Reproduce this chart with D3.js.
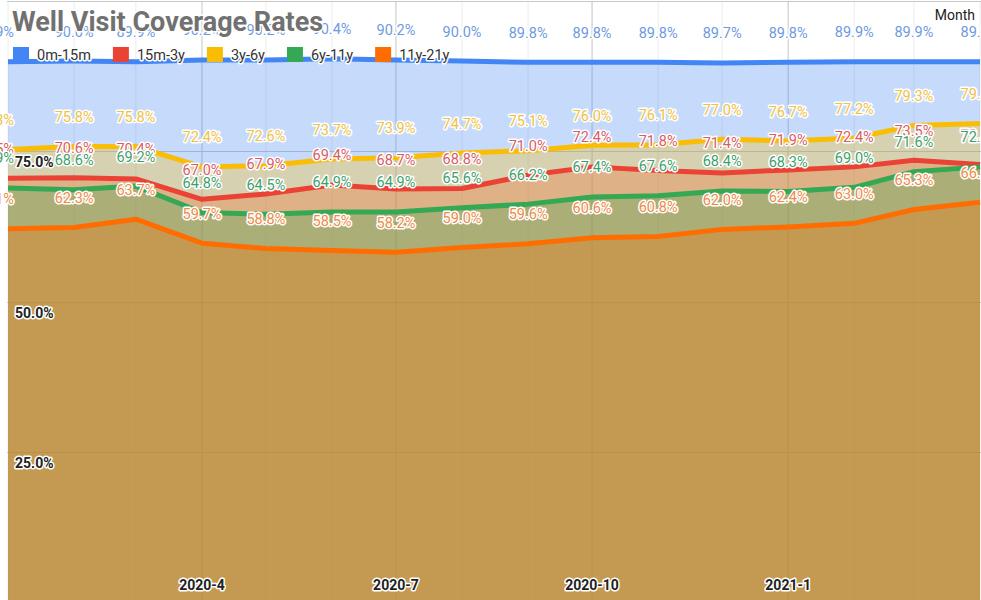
<!DOCTYPE html>
<html>
<head>
<meta charset="utf-8">
<script src="https://cdn.jsdelivr.net/npm/d3@7"></script>
<style>
  html, body { margin: 0; padding: 0; background: #fff; }
  svg { display: block; font-family: Roboto, Arial, sans-serif; }
</style>
</head>
<body>
<svg id="chart"></svg>
<script>
// Données
const months = ["2020-1", "2020-2", "2020-3", "2020-4", "2020-5", "2020-6", "2020-7", "2020-8",
  "2020-9", "2020-10", "2020-11", "2020-12", "2021-1", "2021-2", "2021-3", "2021-4"];
const seriesNames = ["0m-15m", "15m-3y", "3y-6y", "6y-11y", "11y-21y"];
const rate0m15m = [89.9, 90.0, 89.9, 90.2, 90.2, 90.4, 90.2, 90.0, 89.8, 89.8, 89.8, 89.7, 89.8, 89.9, 89.9, 89.9];
const rate15m3y = [70.5, 70.6, 70.4, 67.0, 67.9, 69.4, 68.7, 68.8, 71.0, 72.4, 71.8, 71.4, 71.9, 72.4, 73.5, 72.8];
const rate3y6y = [75.3, 75.8, 75.8, 72.4, 72.6, 73.7, 73.9, 74.7, 75.1, 76.0, 76.1, 77.0, 76.7, 77.2, 79.3, 79.6];
const rate6y11y = [68.9, 68.6, 69.2, 64.8, 64.5, 64.9, 64.9, 65.6, 66.2, 67.4, 67.6, 68.4, 68.3, 69.0, 71.6, 72.4];
const rate11y21y = [62.1, 62.3, 63.7, 59.7, 58.8, 58.5, 58.2, 59.0, 59.6, 60.6, 60.8, 62.0, 62.4, 63.0, 65.3, 66.5];
const yTicks = [25, 50, 75, 100];
const xTickLabels = ["2020-4", "2020-7", "2020-10", "2021-1"];

// Styles
const lineColors = ["#4285f4", "#ea4335", "#fbbc04", "#34a853", "#ff6d01"];
const labelColors = ["#6f9ae0", "#d85d68", "#efc244", "#3f9f6c", "#ef8a45"];

const width = 981,
  height = 600;

const svg = d3.select("#chart").attr("width", width).attr("height", height);

const parseMonth = d3.timeParse("%Y-%m");
const dates = months.map(parseMonth);
const series = [rate0m15m, rate15m3y, rate3y6y, rate6y11y, rate11y21y];

// Echelles
const x = d3.scaleTime()
  .domain([dates[0], dates[dates.length - 1]])
  .range([8, 980]);
const y = d3.scaleLinear().domain([0, 100]).range([602, 1]);

// Zone de tracé (bande blanche à gauche)
svg.append("defs").append("clipPath").attr("id", "plot-clip")
  .append("rect").attr("x", 7).attr("y", 0).attr("width", width - 7).attr("height", height);

const plot = svg.append("g").attr("clip-path", "url(#plot-clip)");

// Grille verticale : mineure chaque mois, majeure chaque trimestre
const monthTicks = d3.timeMonth.range(dates[0], d3.timeMonth.offset(dates[dates.length - 1], 1));
plot.append("g")
  .selectAll("line")
  .data(monthTicks)
  .join("line")
  .attr("x1", d => x(d)).attr("x2", d => x(d))
  .attr("y1", y(100)).attr("y2", height)
  .attr("stroke", d => xTickLabels.includes(d3.timeFormat("%Y-%-m")(d)) ? "#c4c4c4" : "#ececec")
  .attr("stroke-width", 1);

// Grille horizontale
plot.append("g")
  .selectAll("line")
  .data(yTicks)
  .join("line")
  .attr("x1", 0).attr("x2", width)
  .attr("y1", d => Math.round(y(d)) + 0.5).attr("y2", d => Math.round(y(d)) + 0.5)
  .attr("stroke", "#c8c8c8");

// Aires (non empilées, opacité 0.3)
const area = d3.area()
  .x((d, i) => x(dates[i]))
  .y0(y(0))
  .y1(d => y(d));

plot.append("g")
  .selectAll("path")
  .data(series)
  .join("path")
  .attr("d", area)
  .attr("fill", (d, i) => lineColors[i])
  .attr("fill-opacity", 0.3);

// Lignes
const line = d3.line()
  .x((d, i) => x(dates[i]))
  .y(d => y(d));

plot.append("g")
  .selectAll("path")
  .data(series)
  .join("path")
  .attr("d", line)
  .attr("fill", "none")
  .attr("stroke", (d, i) => lineColors[i])
  .attr("stroke-width", 5)
  .attr("stroke-linejoin", "round");

// Etiquettes de valeurs
series.forEach((values, s) => {
  svg.append("g")
    .selectAll("text")
    .data(values)
    .join("text")
    .attr("x", (d, i) => (i === 0 ? x(dates[i]) + 6 : x(dates[i])))
    .attr("y", d => y(d) - 24.5)
    .attr("text-anchor", (d, i) => (i === 0 ? "end" : "middle"))
    .attr("font-size", "14.5px")
    .attr("fill", labelColors[s])
    .attr("stroke", "#fff")
    .attr("stroke-width", 3)
    .attr("stroke-linejoin", "round")
    .attr("paint-order", "stroke")
    .text(d => d.toFixed(1) + "%");
});

// Libellés de l'axe vertical (à l'intérieur)
svg.append("g")
  .selectAll("text")
  .data(yTicks.filter(d => d < 100))
  .join("text")
  .attr("x", 15)
  .attr("y", d => y(d) + 16)
  .attr("font-size", "14px")
  .attr("font-weight", "bold")
  .attr("fill", "#222")
  .attr("stroke", "#fff")
  .attr("stroke-width", 3)
  .attr("stroke-linejoin", "round")
  .attr("paint-order", "stroke")
  .text(d => d.toFixed(1) + "%");

// Libellés de l'axe horizontal
svg.append("g")
  .selectAll("text")
  .data(xTickLabels)
  .join("text")
  .attr("x", d => x(parseMonth(d)))
  .attr("y", 590)
  .attr("text-anchor", "middle")
  .attr("font-size", "14px")
  .attr("font-weight", "bold")
  .attr("fill", "#222")
  .attr("stroke", "#fff")
  .attr("stroke-width", 3)
  .attr("stroke-linejoin", "round")
  .attr("paint-order", "stroke")
  .text(d => d);

// Titre
svg.append("text")
  .attr("x", 12)
  .attr("y", 31)
  .attr("font-size", "27px")
  .attr("font-weight", "bold")
  .attr("fill", "#717171")
  .attr("stroke", "#fff")
  .attr("stroke-width", 3)
  .attr("stroke-linejoin", "round")
  .attr("paint-order", "stroke")
  .text("Well Visit Coverage Rates");

// Titre de l'axe des x (en haut à droite)
svg.append("text")
  .attr("x", 975)
  .attr("y", 20)
  .attr("text-anchor", "end")
  .attr("font-size", "14px")
  .attr("fill", "#222")
  .text("Month");

// Légende
const legend = svg.append("g").attr("class", "legend");
let lx = 13;
seriesNames.forEach((name, i) => {
  const item = legend.append("g").attr("transform", `translate(${lx}, 47)`);
  item.append("rect")
    .attr("width", 16).attr("height", 15)
    .attr("fill", lineColors[i]);
  const t = item.append("text")
    .attr("x", 24)
    .attr("y", 13)
    .attr("font-size", "14.5px")
    .attr("fill", "#333")
    .attr("stroke", "#fff")
    .attr("stroke-width", 3)
    .attr("stroke-linejoin", "round")
    .attr("paint-order", "stroke")
    .text(name);
  lx += 24 + t.node().getComputedTextLength() + 22;
});
</script>
</body>
</html>
